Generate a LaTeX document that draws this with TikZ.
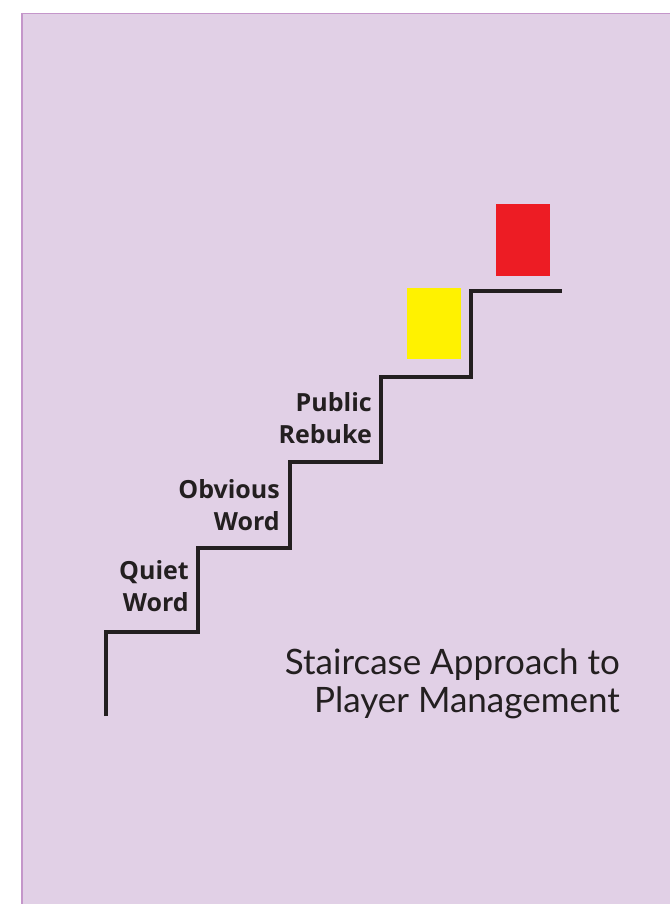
\documentclass[tikz,border=0pt]{standalone}
\usepackage{fontspec}
\setmainfont{Open Sans}
\newfontfamily\titlefont{Lato}
\definecolor{bgfill}{HTML}{E1D0E6}
\definecolor{bgedge}{HTML}{C496CA}
\definecolor{ink}{HTML}{231F20}
\definecolor{cardyellow}{HTML}{FFF200}
\definecolor{cardred}{HTML}{ED1C24}
\begin{document}
\begin{tikzpicture}[x=1pt,y=-1pt,
  stairline/.style={draw=ink,line width=3.3pt,miter limit=10},
  steplabel/.style={font=\bfseries\fontsize{25}{32}\selectfont,text=ink,align=right,anchor=base east,inner sep=0pt},
  titlelabel/.style={font=\titlefont\fontsize{35}{38}\selectfont,text=ink,align=right,anchor=base east,inner sep=0pt},
  card/.style={draw=none,inner sep=0pt,anchor=north west}]
\useasboundingbox (0,0) rectangle (670,904);
\fill[bgfill] (21,13) rectangle (670,904);
\draw[bgedge,line width=1pt] (21,13.5) -- (670,13.5);
\draw[bgedge,line width=2pt] (22,13) -- (22,904);
% staircase
\coordinate (s0) at (106,716);
\coordinate (s1) at (106,632);
\coordinate (s2) at (198,632);
\coordinate (s3) at (198,548);
\coordinate (s4) at (290,548);
\coordinate (s5) at (290,462);
\coordinate (s6) at (381,462);
\coordinate (s7) at (381,377);
\coordinate (s8) at (471,377);
\coordinate (s9) at (471,291);
\coordinate (s10) at (562,291);
\draw[stairline] (s0) -- (s1) -- (s2) -- (s3) -- (s4) -- (s5) -- (s6) -- (s7) -- (s8) -- (s9) -- (s10);
% cards
\node[card,fill=cardyellow,minimum width=54pt,minimum height=71pt] (yellow) at (407,288) {};
\node[card,fill=cardred,minimum width=54pt,minimum height=72pt] (red) at (496,204) {};
% labels (anchor = baseline of last line)
\node[steplabel] (quiet) at (189,611) {Quiet\\Word};
\node[steplabel] (obvious) at (280,530) {Obvious\\Word};
\node[steplabel] (public) at (372,443) {Public\\Rebuke};
\node[titlelabel] (title) at (620,712) {Staircase Approach to\\Player Management};
\end{tikzpicture}
\end{document}
